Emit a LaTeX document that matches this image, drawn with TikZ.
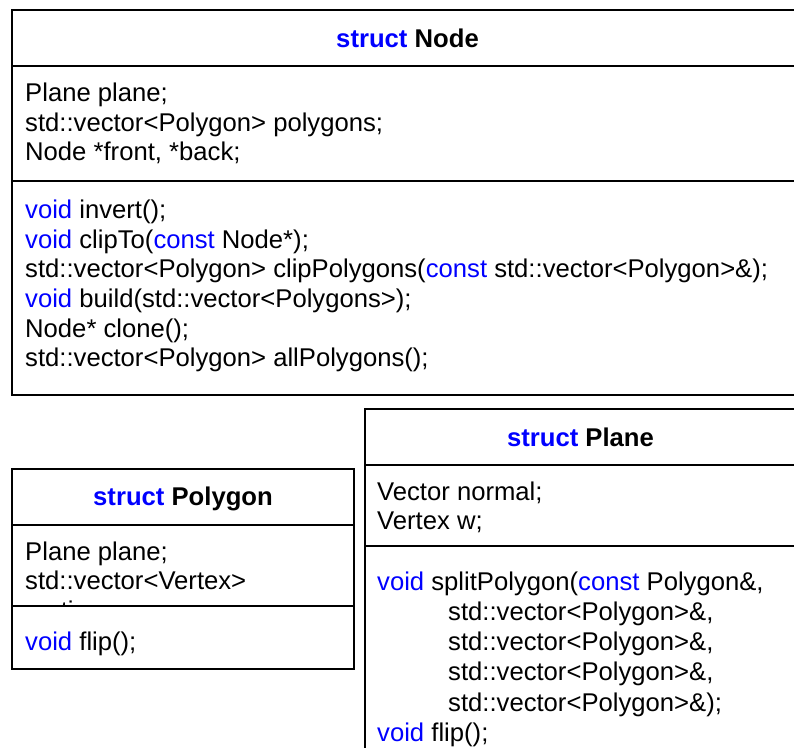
\documentclass[tikz,border=0pt]{standalone}
\usepackage{fontspec}
\setmainfont{Liberation Sans}
\definecolor{kwblue}{RGB}{0,0,255}
\newcommand{\kwd}[1]{\textcolor{kwblue}{#1}}
\tikzset{
  frame/.style={draw=black, line width=2pt},
  codeline/.style={anchor=base west, inner sep=0pt, font=\fontsize{25.65}{29.6}\selectfont},
  classtitle/.style={anchor=base, inner sep=0pt, font=\fontsize{25.65}{29.6}\selectfont\bfseries},
}
\begin{document}
\begin{tikzpicture}[x=1pt, y=-1pt]
\useasboundingbox (0,0) rectangle (794,747);
\clip (0,0) rectangle (794,747);

% ---------- struct Node ----------
\draw[frame] (12,10) rectangle (803,395);
\draw[frame] (12,66) -- (803,66);
\draw[frame] (12,181) -- (803,181);
\node[classtitle] (nodeTitle) at (407.5,47.5) {\kwd{struct} Node};
\node[codeline] (nodeA1) at (25,101.5) {Plane plane;};
\node[codeline] (nodeA2) at (25,131) {std::vector<Polygon> polygons;};
\node[codeline] (nodeA3) at (25,160.5) {Node *front, *back;};
\node[codeline] (nodeM1) at (25,218.7) {\kwd{void} invert();};
\node[codeline] (nodeM2) at (25,248.3) {\kwd{void} clipTo(\kwd{const} Node*);};
\node[codeline] (nodeM3) at (25,277.9) {std::vector<Polygon> clipPolygons(\kwd{const} std::vector<Polygon>\&);};
\node[codeline] (nodeM4) at (25,307.5) {\kwd{void} build(std::vector<Polygons>);};
\node[codeline] (nodeM5) at (25,337.1) {Node* clone();};
\node[codeline] (nodeM6) at (25,366.7) {std::vector<Polygon> allPolygons();};

% ---------- struct Polygon ----------
\draw[frame] (12,469) rectangle (354,669);
\draw[frame] (12,525) -- (354,525);
\node[classtitle] (polyTitle) at (183,505.7) {\kwd{struct} Polygon};
\begin{scope}
  \clip (12,525) rectangle (354,605);
  \node[codeline] (polyA1) at (25,560) {Plane plane;};
  \node[codeline] (polyA2) at (25,589.5) {std::vector<Vertex>};
  \node[codeline] (polyA3) at (25,619) {vertices;};
\end{scope}
\draw[frame] (12,606) -- (354,606);
\node[codeline] (polyM1) at (25,650) {\kwd{void} flip();};

% ---------- struct Plane ----------
\draw[frame] (365,409) rectangle (796,760);
\draw[frame] (365,465) -- (796,465);
\draw[frame] (365,546) -- (796,546);
\node[classtitle] (planeTitle) at (580.5,446.7) {\kwd{struct} Plane};
\node[codeline] (planeA1) at (377,500) {Vector normal;};
\node[codeline] (planeA2) at (377,529.5) {Vertex w;};
\node[codeline] (planeM1) at (377,590) {\kwd{void} splitPolygon(\kwd{const} Polygon\&,};
\node[codeline] (planeM2) at (448,620.3) {std::vector<Polygon>\&,};
\node[codeline] (planeM3) at (448,650.6) {std::vector<Polygon>\&,};
\node[codeline] (planeM4) at (448,680.9) {std::vector<Polygon>\&,};
\node[codeline] (planeM5) at (448,711.2) {std::vector<Polygon>\&);};
\node[codeline] (planeM6) at (377,741.5) {\kwd{void} flip();};
\end{tikzpicture}
\end{document}
